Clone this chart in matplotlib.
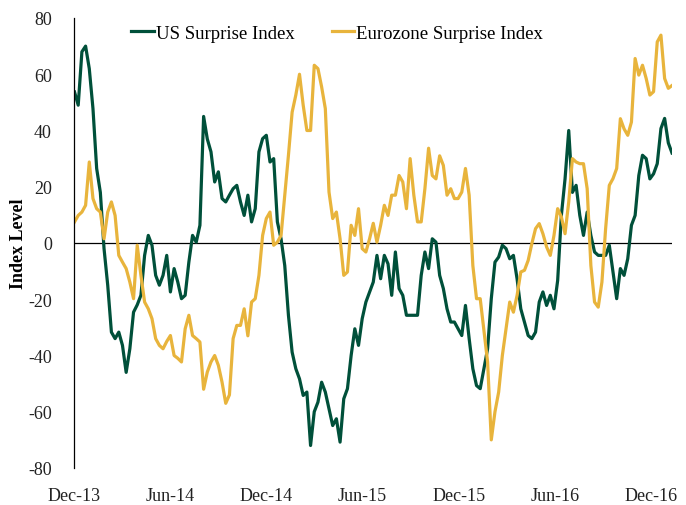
import matplotlib
matplotlib.use("Agg")
import matplotlib.pyplot as plt
import matplotlib.dates as mdates
import pandas as pd

# weekly readings, Dec-2013 .. early Jan-2017
us_surprise = [
    53.7, 49, 68, 70, 62, 47.8, 26.5, 18, -2, -15,
    -31.7, -34, -31.7, -36.4, -46, -37.6, -24.6, -22, -18.6, -4.4,
    2.7, -0.8, -11.5, -15, -11.5, -4.4, -17.4, -9.1,
    -13.9, -19.8, -18.6, -6.8, 2.7, 0.3, 6.3, 45, 37, 32.4,
    21.7, 25.3, 15.8, 14.6, 17, 19.3, 20.5, 14.6, 9.8, 17,
    7.5, 12.2, 32.4, 37.1, 38.3, 28.8,
    30, 7.5, 1.5, -8, -25.7, -38.8, -44.7, -48.3, -54.2, -53,
    -72, -60, -56.6, -49.5, -53, -59, -64.9, -62.5, -70.8, -55.4,
    -51.8, -40, -30.5, -36.4, -26.9, -21, -17.4,
    -13.9, -4.4, -12.7, -4.4, -7.4, -18.6, -3.2, -16.2, -18.6, -25.7,
    -25.7, -25.7, -25.7, -11.5, -3.2, -9.1, 1.5, 0.3, -11.5, -16.2,
    -23.4, -28.1, -28.1, -30.5, -32.9, -22.2, -34,
    -44.7, -50.7, -51.8, -44.7, -37.6, -19.8, -6.8, -5, -0.8, -2,
    -5.6, -4.4, -12.8, -23.4, -28.1, -32.9, -34, -31.7, -21, -17.4,
    -22.2, -18.6, -23.4, -13.3, 9.8, 22.8, 40,
    18, 20.5, 9.8, 2.7, 11, 2.7, -3.2, -4.4, -4.4, -4.4,
    -0.8, -10.3, -19.8, -9.1, -11.5, -5.6, 6.3, 9.8, 24, 31.2,
    30, 22.8, 24.6, 28.2, 40.7, 44.3, 35.6, 32,
]

ez_surprise = [
    7.5, 9.8, 11, 13.4, 28.8, 15.8, 12.2, 11, 1.5, 11,
    14.6, 9.8, -4.4, -6.8, -9.1, -13.9, -19.8, -0.8, -11.5, -21,
    -23.4, -26.9, -34, -36.4, -37.6, -35, -32.9, -40,
    -41, -42.3, -30.5, -25.7, -32.9, -34, -35.2, -52, -45.9, -42.3,
    -40, -43.5, -49.5, -57, -54, -34, -29.3, -29.3, -23.4, -33,
    -21, -19.8, -11.5, 2.7, 8.7, 11,
    -0.8, 0.3, 2.7, 17, 31.2, 46.5, 52.6, 60, 49, 40,
    40, 63.2, 62, 55.5, 47.8, 18.1, 8.7, 11, 1.5, -11.5,
    -10.3, 6.3, 2.7, 12.2, -2, -3.2, 1.5,
    7, 0.3, 6.3, 13.4, 9.8, 17, 17, 24, 21.7, 12.2,
    30, 17, 7.5, 7.5, 19.3, 33.7, 24, 22.8, 31, 27.6,
    17, 19.3, 15.8, 15.8, 18.1, 26.5, 17,
    -8, -19.8, -19.8, -31, -42.3, -70, -60, -53, -40, -30.5,
    -21, -24.6, -18.6, -10.3, -9.7, -6.2, -0.2, 5.1, 6.9, 3.3,
    -1.4, -4.4, 2.7, 12.2, 9.3, 3.3, 14.6,
    30, 28.8, 28.2, 28.2, 19.3, -8, -21, -22.8, -13.9, 5.1,
    20.5, 22.9, 26.5, 44.2, 40.6, 38.3, 43, 65.6, 59.7, 63.2,
    58.5, 52.6, 53.8, 71.5, 73.9, 58.5, 55, 56,
]

dates = pd.date_range("2013-12-02", periods=len(us_surprise), freq="7D")
tick_dates = pd.date_range("2013-12-01", "2016-12-01", freq="6MS")
y_ticks = list(range(-80, 81, 20))

green = "#00503A"
gold = "#E8B43C"

plt.rcParams["font.family"] = ["Liberation Serif", "DejaVu Serif"]

fig = plt.figure(figsize=(6.86, 5.06), dpi=100)
ax = fig.add_axes([74 / 686, 1 - 469 / 506, 598 / 686, 450 / 506])

ax.plot(dates, us_surprise, color=green, lw=2.3, label="US Surprise Index")
ax.plot(dates, ez_surprise, color=gold, lw=2.3, label="Eurozone Surprise Index")
ax.axhline(0, color="black", lw=0.9, zorder=0)

ax.set_ylim(-80, 80)
ax.set_yticks(y_ticks)
ax.set_yticklabels([str(v) for v in y_ticks])
ax.set_xlim(dates[0] - pd.Timedelta(days=1), dates[-1])
ax.set_xticks(tick_dates)
ax.xaxis.set_major_formatter(mdates.DateFormatter("%b-%y"))

for side in ["top", "right", "bottom"]:
    ax.spines[side].set_visible(False)
ax.spines["left"].set_linewidth(0.9)
ax.tick_params(axis="y", length=0, pad=16, labelsize=13, colors="#222222")
ax.tick_params(axis="x", length=0, pad=14, labelsize=13, colors="#222222")

ax.set_ylabel("Index Level", fontsize=13, fontweight="bold")
ax.yaxis.set_label_coords(-0.078, 0.5)

ax.legend(loc="center", bbox_to_anchor=(0.44, 0.966), ncol=2, frameon=False,
          fontsize=13.5, handlelength=1.2, handletextpad=0.1, columnspacing=2.0)

fig.savefig("out.png", dpi=100)
